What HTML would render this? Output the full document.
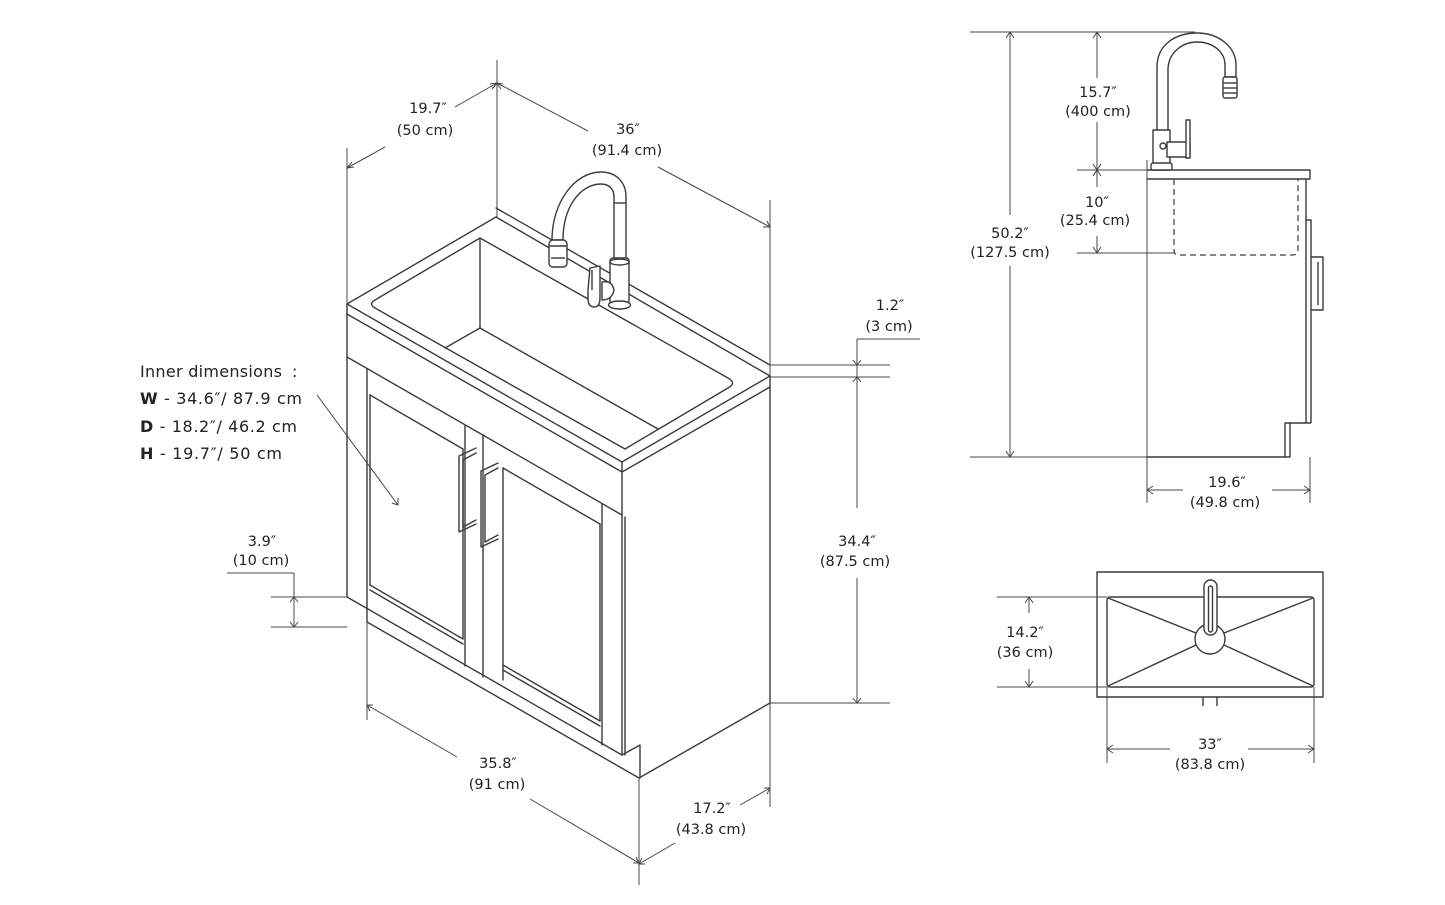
<!DOCTYPE html>
<html><head><meta charset="utf-8"><style>
html,body{margin:0;padding:0;background:#fff;}
svg{display:block;}
</style></head><body>
<svg width="1445" height="905" viewBox="0 0 1445 905" xmlns="http://www.w3.org/2000/svg">
<rect width="1445" height="905" fill="#fff"/>

<!-- ================= ISOMETRIC CABINET ================= -->
<g stroke="#3a3a3a" stroke-width="1.4" fill="none" stroke-linejoin="round" stroke-linecap="round">
  <!-- top surface outline -->
  <path d="M347,304 L496,217 L770,376"/>
  <path d="M496,208 L770,365"/>
  <!-- counter front edges -->
  <path d="M347,304 L622,462 L770,376"/>
  <path d="M347,314 L622,472 L770,387"/>
  <path d="M347,357 L622,515"/>
  <!-- basin opening -->
  <path d="M375,300 L480,238 L728,378 Q737,383 728,388 L625,449 L375,308 Q368,304 375,300 Z"/>
  <!-- basin interior -->
  <path d="M480,238 L480,328 L658,429"/>
  <path d="M480,328 L445,348"/>
  <!-- left stile / left edge -->
  <path d="M347,304 L347,597 L622,755"/>
  <!-- left door -->
  <path d="M367,369 L367,609"/>
  <path d="M370,395 L370,585"/>
  <path d="M370,395 L463,449"/>
  <path d="M370,585 L463,639"/>
  <path d="M370,590 L463,644"/>
  <path d="M463,449 L463,639"/>
  <path d="M465,426 L465,666"/>
  <!-- right door -->
  <path d="M483,435 L483,677"/>
  <path d="M503,468 L503,680"/>
  <path d="M503,468 L600,524"/>
  <path d="M503,665 L600,721"/>
  <path d="M503,670 L600,726"/>
  <path d="M600,524 L600,721"/>
  <path d="M602,504 L602,745"/>
  <!-- right front corner -->
  <path d="M622,462 L622,755"/>
  <path d="M625,517 L625,755"/>
  <path d="M622,755 L640,745 L640,778"/>
  <!-- base -->
  <path d="M367,609 L367,622 L639,778 L770,703"/>
  <!-- right back edge -->
  <path d="M770,376 L770,703"/>
  <!-- handles -->
  <path d="M476,448 L459,456 L459,532 L476,524"/>
  <path d="M476,453 L463,460 L463,527 L476,520"/>
  <path d="M498,463 L481,471 L481,547 L498,539"/>
  <path d="M498,468 L485,475 L485,542 L498,535"/>
</g>

<!-- faucet iso -->
<g stroke="#3a3a3a" stroke-width="1.4" fill="#fff" stroke-linejoin="round">
  <path d="M552,240 C552,202 575,172 601,172 C616,172 626,182 626,197 L626,262 L614,262 L614,197 C614,189 609,184 601,184 C581,184 563,206 563,240 Z"/>
  <line x1="614" y1="203" x2="626" y2="203"/>
  <rect x="549" y="240" width="18" height="27" rx="4"/>
  <line x1="549" y1="246" x2="567" y2="246"/>
  <line x1="551" y1="258" x2="565" y2="258"/>
  <rect x="610" y="258" width="19" height="46" rx="3"/>
  <ellipse cx="619.5" cy="262" rx="9.5" ry="3"/>
  <ellipse cx="619.5" cy="305" rx="11" ry="4"/>
  <path d="M602,282 Q612,280 614,290 Q612,300 602,300 Z"/>
  <path d="M590,268 L600,266 L600,298 Q600,307 594,307 Q588,307 588,298 L588,290 Z"/>
  <line x1="592" y1="270" x2="592" y2="290"/>
</g>

<!-- ================= SIDE VIEW ================= -->
<g stroke="#3a3a3a" stroke-width="1.4" fill="none" stroke-linejoin="round">
  <path d="M1147,170 L1310,170 L1310,179 L1147,179"/>
  <path d="M1306,179 L1306,423"/>
  <path d="M1306,220 L1311,220 L1311,423"/>
  <path d="M1311,257 L1323,257 L1323,310 L1311,310"/>
  <path d="M1318,262 L1318,305"/>
  <path d="M1311,423 L1285,423 L1285,457 L1147,457"/>
  <path d="M1290,423 L1290,457 L1285,457"/>
  <path d="M1174,179 L1174,250 Q1174,255 1179,255 L1293,255 Q1298,255 1298,250 L1298,179" stroke-dasharray="6,4" stroke-width="1.2"/>
  <!-- faucet side -->
  <path d="M1157,130 L1157,67 C1157,45 1175,33 1197,33 C1220,33 1236,48 1236,65 L1236,77 L1225,77 L1225,65 C1225,52 1213,42 1197,42 C1182,42 1168,53 1168,70 L1168,130" fill="#fff"/>
  <rect x="1223" y="77" width="14" height="21" rx="2" fill="#fff"/>
  <line x1="1223" y1="83" x2="1237" y2="83"/>
  <line x1="1223" y1="88" x2="1237" y2="88"/>
  <line x1="1223" y1="93" x2="1237" y2="93"/>
  <rect x="1153" y="130" width="17" height="35" fill="#fff"/>
  <rect x="1151" y="163" width="21" height="7" rx="2" fill="#fff"/>
  <rect x="1167" y="142" width="23" height="15" fill="#fff"/>
  <rect x="1186" y="120" width="4" height="38" fill="#fff"/>
  <circle cx="1163" cy="146" r="3"/>
</g>

<!-- ================= TOP VIEW ================= -->
<g stroke="#3a3a3a" stroke-width="1.4" fill="none" stroke-linejoin="round">
  <rect x="1097" y="572" width="226" height="125"/>
  <rect x="1107" y="597" width="207" height="90" rx="3"/>
  <line x1="1108" y1="598" x2="1196" y2="633"/>
  <line x1="1313" y1="598" x2="1224" y2="633"/>
  <line x1="1108" y1="686" x2="1196" y2="645"/>
  <line x1="1313" y1="686" x2="1224" y2="645"/>
  <circle cx="1210" cy="639" r="15"/>
  <rect x="1204" y="580" width="13" height="55" rx="6.5" fill="#fff"/>
  <rect x="1208.5" y="586" width="4" height="46" rx="2"/>
  <line x1="1203" y1="697" x2="1203" y2="706"/>
  <line x1="1217" y1="697" x2="1217" y2="706"/>
</g>

<!-- ================= DIMENSION LINES ================= -->
<g stroke="#474747" stroke-width="1" fill="none">
  <!-- extension verticals iso -->
  <line x1="347" y1="148" x2="347" y2="304"/>
  <line x1="497" y1="60" x2="497" y2="217"/>
  <line x1="770" y1="200" x2="770" y2="376"/>
  <line x1="770" y1="703" x2="770" y2="807"/>
  <line x1="639" y1="778" x2="639" y2="885"/>
  <line x1="367" y1="622" x2="367" y2="720"/>
  <!-- 19.7 -->
  <line x1="347" y1="168" x2="385" y2="147"/>
  <line x1="455" y1="107" x2="497" y2="83"/>
  <path d="M352,162 L347,168 L354,167"/>
  <path d="M490,84 L497,83 L492,89"/>
  <!-- 36 -->
  <line x1="497" y1="83" x2="588" y2="131"/>
  <line x1="658" y1="167" x2="770" y2="227"/>
  <path d="M503,84 L497,83 L501,89"/>
  <path d="M763,227 L770,227 L767,221"/>
  <!-- 1.2 / 34.4 -->
  <line x1="770" y1="365" x2="890" y2="365"/>
  <line x1="770" y1="377" x2="890" y2="377"/>
  <line x1="857" y1="339" x2="920" y2="339"/>
  <line x1="857" y1="339" x2="857" y2="508"/>
  <line x1="857" y1="578" x2="857" y2="703"/>
  <line x1="770" y1="703" x2="890" y2="703"/>
  <path d="M853,360 L857,365 L861,360"/>
  <path d="M853,382 L857,377 L861,382"/>
  <path d="M853,698 L857,703 L861,698"/>
  <!-- 3.9 -->
  <line x1="227" y1="573" x2="294" y2="573"/>
  <line x1="294" y1="573" x2="294" y2="627"/>
  <line x1="271" y1="597" x2="347" y2="597"/>
  <line x1="271" y1="627" x2="347" y2="627"/>
  <path d="M290,602 L294,597 L298,602"/>
  <path d="M290,622 L294,627 L298,622"/>
  <!-- inner dims arrow -->
  <line x1="317" y1="395" x2="398" y2="505"/>
  <path d="M392,503 L398,505 L398,498"/>
  <!-- 35.8 -->
  <line x1="367" y1="705" x2="457" y2="757"/>
  <line x1="530" y1="799" x2="639" y2="863"/>
  <path d="M373,705 L367,705 L370,711"/>
  <path d="M633,863 L639,863 L636,857"/>
  <!-- 17.2 -->
  <line x1="639" y1="864" x2="675" y2="843"/>
  <line x1="740" y1="805" x2="770" y2="788"/>
  <path d="M645,864 L639,864 L642,858"/>
  <path d="M764,788 L770,788 L767,794"/>
  <!-- side view dims -->
  <line x1="970" y1="32" x2="1195" y2="32"/>
  <line x1="970" y1="457" x2="1147" y2="457"/>
  <line x1="1147" y1="160" x2="1147" y2="503"/>
  <line x1="1310" y1="457" x2="1310" y2="503"/>
  <line x1="1077" y1="170" x2="1147" y2="170"/>
  <line x1="1077" y1="253" x2="1174" y2="253"/>
  <line x1="1010" y1="32" x2="1010" y2="215"/>
  <line x1="1010" y1="266" x2="1010" y2="457"/>
  <path d="M1006,38 L1010,32 L1014,38"/>
  <path d="M1006,451 L1010,457 L1014,451"/>
  <line x1="1097" y1="32" x2="1097" y2="78"/>
  <line x1="1097" y1="122" x2="1097" y2="170"/>
  <path d="M1093,38 L1097,32 L1101,38"/>
  <path d="M1093,164 L1097,170 L1101,164"/>
  <line x1="1097" y1="170" x2="1097" y2="187"/>
  <line x1="1097" y1="236" x2="1097" y2="253"/>
  <path d="M1093,176 L1097,170 L1101,176"/>
  <path d="M1093,247 L1097,253 L1101,247"/>
  <line x1="1147" y1="490" x2="1183" y2="490"/>
  <line x1="1272" y1="490" x2="1310" y2="490"/>
  <path d="M1153,486 L1147,490 L1153,494"/>
  <path d="M1304,486 L1310,490 L1304,494"/>
  <!-- top view dims -->
  <line x1="997" y1="597" x2="1107" y2="597"/>
  <line x1="997" y1="687" x2="1107" y2="687"/>
  <line x1="1029" y1="597" x2="1029" y2="613"/>
  <line x1="1029" y1="669" x2="1029" y2="687"/>
  <path d="M1025,603 L1029,597 L1033,603"/>
  <path d="M1025,681 L1029,687 L1033,681"/>
  <line x1="1107" y1="687" x2="1107" y2="763"/>
  <line x1="1314" y1="687" x2="1314" y2="763"/>
  <line x1="1107" y1="749" x2="1170" y2="749"/>
  <line x1="1248" y1="749" x2="1314" y2="749"/>
  <path d="M1113,745 L1107,749 L1113,753"/>
  <path d="M1308,745 L1314,749 L1308,753"/>
</g>

<!-- ================= LABELS ================= -->
<g font-family="DejaVu Sans, 'Liberation Sans', sans-serif" font-size="14.5" fill="#222" text-anchor="middle">
  <text x="428" y="113">19.7&#8243;</text>
  <text x="425" y="135">(50 cm)</text>
  <text x="628" y="134">36&#8243;</text>
  <text x="627" y="155">(91.4 cm)</text>
  <text x="890" y="310">1.2&#8243;</text>
  <text x="889" y="331">(3 cm)</text>
  <text x="857" y="546">34.4&#8243;</text>
  <text x="855" y="566">(87.5 cm)</text>
  <text x="262" y="546">3.9&#8243;</text>
  <text x="261" y="565">(10 cm)</text>
  <text x="498" y="768">35.8&#8243;</text>
  <text x="497" y="789">(91 cm)</text>
  <text x="712" y="813">17.2&#8243;</text>
  <text x="711" y="834">(43.8 cm)</text>
  <text x="1098" y="97">15.7&#8243;</text>
  <text x="1098" y="116">(400 cm)</text>
  <text x="1097" y="207">10&#8243;</text>
  <text x="1095" y="225">(25.4 cm)</text>
  <text x="1010" y="238">50.2&#8243;</text>
  <text x="1010" y="257">(127.5 cm)</text>
  <text x="1227" y="487">19.6&#8243;</text>
  <text x="1225" y="507">(49.8 cm)</text>
  <text x="1025" y="637">14.2&#8243;</text>
  <text x="1025" y="657">(36 cm)</text>
  <text x="1210" y="749">33&#8243;</text>
  <text x="1210" y="769">(83.8 cm)</text>
</g>
<g font-family="DejaVu Sans, 'Liberation Sans', sans-serif" font-size="16" fill="#222">
  <text x="140" y="377" textLength="142" lengthAdjust="spacing">Inner dimensions</text>
  <text x="292" y="377">:</text>
  <text x="140" y="404" textLength="162" lengthAdjust="spacing"><tspan font-weight="bold">W</tspan> - 34.6&#8243;/ 87.9 cm</text>
  <text x="140" y="432" textLength="157" lengthAdjust="spacing"><tspan font-weight="bold">D</tspan> - 18.2&#8243;/ 46.2 cm</text>
  <text x="140" y="459" textLength="142" lengthAdjust="spacing"><tspan font-weight="bold">H</tspan> - 19.7&#8243;/ 50 cm</text>
</g>
</svg>
</body></html>
